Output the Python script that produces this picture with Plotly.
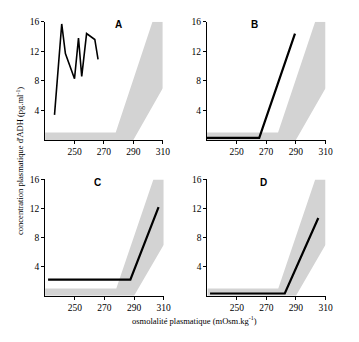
import plotly.graph_objects as go

# Normal range band (osmolality, ADH)
band_x = [230, 290, 310, 310, 303, 278, 230]
band_y = [0, 0, 7, 16, 16, 1, 1]

# Panel curves
a_x = [236.4, 241.3, 243.8, 250.0, 252.7, 254.9, 258.2, 263.8, 266.0]
a_y = [3.4, 15.7, 11.7, 8.3, 13.8, 8.6, 14.4, 13.6, 10.9]
b_x = [230, 265.3, 289.4]
b_y = [0.3, 0.3, 14.4]
c_x = [232, 287.5, 306.5]
c_y = [2.2, 2.2, 12.2]
d_x = [231.8, 282.4, 305.1]
d_y = [0.3, 0.3, 10.7]

panel_labels = ["A", "B", "C", "D"]
x_ticks = [250, 270, 290, 310]
y_ticks = [4, 8, 12, 16]

W, H = 359, 342
def px(x): return x / W
def py(y): return 1 - y / H

domains = [
    ((46, 166), (17, 137)),
    ((211, 332), (17, 137)),
    ((46, 167), (177, 295)),
    ((211.5, 332), (177, 295)),
]
curves = [(a_x, a_y, 1.6), (b_x, b_y, 2.2), (c_x, c_y, 2.2), (d_x, d_y, 2.2)]
label_pos = [280, 262, 265, 268]

fig = go.Figure()
tickfont = dict(family="Liberation Serif", size=9.5, color="black")
for i, ((x0, x1), (y0, y1)) in enumerate(domains):
    n = "" if i == 0 else str(i + 1)
    xa, ya = "x" + n, "y" + n
    fig.add_trace(go.Scatter(x=band_x, y=band_y, xaxis=xa, yaxis=ya, mode="lines",
                             fill="toself", fillcolor="#d3d3d3", line=dict(width=0),
                             hoverinfo="skip", showlegend=False))
    cx, cy, w = curves[i]
    fig.add_trace(go.Scatter(x=cx, y=cy, xaxis=xa, yaxis=ya, mode="lines",
                             line=dict(color="black", width=w), showlegend=False))
    common = dict(showgrid=False, zeroline=False, showline=True, linecolor="black",
                  linewidth=1, ticks="outside", ticklen=3, tickcolor="black",
                  tickwidth=1, tickfont=tickfont)
    fig.layout["xaxis" + n] = dict(domain=[px(x0), px(x1)], range=[230, 310],
                                   tickvals=x_ticks, anchor=ya, **common)
    fig.layout["yaxis" + n] = dict(domain=[py(y1), py(y0)], range=[0, 16],
                                   tickvals=y_ticks, anchor=xa, **common)
    fig.add_annotation(x=label_pos[i], y=15.6, xref=xa, yref=ya, text="<b>%s</b>" % panel_labels[i],
                       showarrow=False, font=dict(family="Liberation Sans", size=10, color="black"))

fig.add_annotation(x=px(13), y=py(158), xref="paper", yref="paper", textangle=-90,
                   text="concentration plasmatique d'ADH (pg.ml<sup>-1</sup>)", showarrow=False,
                   font=dict(family="Liberation Serif", size=8.5, color="black"))
fig.add_annotation(x=px(198), y=py(328), xref="paper", yref="paper",
                   text="osmolalité plasmatique (mOsm.kg<sup>-1</sup>)", showarrow=False,
                   font=dict(family="Liberation Serif", size=8.5, color="black"))

fig.update_layout(width=W, height=H, margin=dict(l=0, r=0, t=0, b=0),
                  paper_bgcolor="white", plot_bgcolor="white")
fig.write_html("out.html")
